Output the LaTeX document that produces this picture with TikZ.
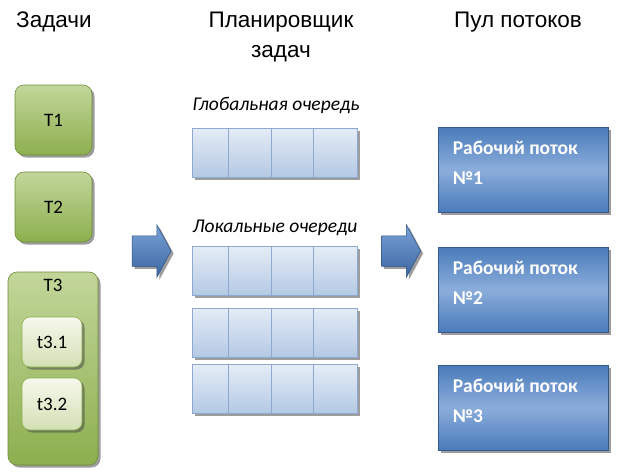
\documentclass[tikz,border=0pt]{standalone}
\usepackage{fontspec}
\setmainfont{Carlito}
\newfontfamily\headfont{Liberation Sans}
\usetikzlibrary{shapes.arrows,shadows}
\definecolor{tgA}{HTML}{C2D69A}
\definecolor{tgB}{HTML}{8DAF4E}
\definecolor{tgD}{HTML}{6E8C36}
\definecolor{ssA}{HTML}{F6F8EC}
\definecolor{ssB}{HTML}{D3E0B4}
\definecolor{qA}{HTML}{E4ECF6}
\definecolor{qB}{HTML}{B4C9E4}
\definecolor{qD}{HTML}{8EA9CF}
\definecolor{wA}{HTML}{4A7BBA}
\definecolor{wB}{HTML}{8BADDB}
\definecolor{wD}{HTML}{35598A}
\definecolor{aA}{HTML}{7AA2D6}
\definecolor{aB}{HTML}{3A66A2}
\tikzset{
  shad/.style={drop shadow={shadow xshift=2.5pt,shadow yshift=-2.5pt,opacity=0.55,fill=black!70}},
  heading/.style={font=\headfont\fontsize{22.5}{30}\selectfont, text=black},
  qlabel/.style={font=\itshape\fontsize{19.5}{22}\selectfont},
  taskbox/.style={draw=tgD, line width=0.6pt, rounded corners=9pt, top color=tgA, bottom color=tgB, shad, font=\fontsize{19}{22}\selectfont, inner sep=0pt},
  subbox/.style={draw=tgB, line width=0.6pt, rounded corners=8pt, top color=ssA, bottom color=ssB, shad, font=\fontsize{19}{22}\selectfont, inner sep=0pt},
  qframe/.style={draw=qD, fill=qB, shad, minimum width=165pt, minimum height=49pt, inner sep=0pt},
  qcell/.style={draw=qD, line width=0.5pt, top color=qA, bottom color=qB, minimum height=49pt, inner sep=0pt},
  worker/.style={draw=wD, line width=0.8pt, top color=wA, bottom color=wA, middle color=wB, shad, minimum width=170pt, minimum height=85pt, inner sep=0pt},
  wtext/.style={text=white, font=\bfseries\fontsize{19.5}{30}\selectfont, align=left, anchor=north west, inner sep=0pt},
  bigarrow/.style={single arrow, draw=aB!80!black, line width=0.5pt, top color=aA, bottom color=aB, minimum height=39pt, minimum width=52pt, single arrow head extend=11pt, single arrow tip angle=123, inner xsep=0pt, inner ysep=15pt, shad}
}
\begin{document}
\begin{tikzpicture}[x=1pt,y=-1pt]
\useasboundingbox (0,0) rectangle (620,471);
% headings
\node[heading] (hT) at (54,22) {Задачи};
\node[heading, align=center] (hS) at (281,37) {Планировщик\\задач};
\node[heading] (hP) at (518,22) {Пул потоков};
% tasks
\node[taskbox, minimum width=77pt, minimum height=70pt] (T1) at (53.5,120) {T1};
\node[taskbox, minimum width=77pt, minimum height=70pt] (T2) at (53.5,207) {T2};
\node[taskbox, minimum width=90pt, minimum height=193pt] (T3) at (53,368.5) {};
\node[font=\fontsize{19}{22}\selectfont] (T3l) at (53,285) {T3};
\node[subbox, minimum width=60pt, minimum height=50pt] (t31) at (52,342) {t3.1};
\node[subbox, minimum width=60pt, minimum height=52pt] (t32) at (52,404) {t3.2};
% queues
\node[qlabel] (gl) at (276,105) {Глобальная очередь};
\node[qlabel] (ll) at (275,228) {Локальные очереди};
\foreach \q/\y in {g/152.5, la/271, lb/332.5, lc/389}{
  \node[qframe] (\q) at (274.5,\y) {};
  \node[qcell, minimum width=36pt] (\q1) at (210,\y) {};
  \node[qcell, minimum width=43pt] (\q2) at (249.5,\y) {};
  \node[qcell, minimum width=42pt] (\q3) at (292,\y) {};
  \node[qcell, minimum width=44pt] (\q4) at (335,\y) {};
}
% arrows
\node[bigarrow] (a1) at (147.5,251) {};
\node[bigarrow] (a2) at (397,251) {};
% workers
\foreach \n/\y in {1/169.5, 2/289.5, 3/407.5}{
  \node[worker] (w\n) at (523,\y) {};
  \node[wtext] (wt\n) at ([xshift=15pt,yshift=-14pt]w\n.north west) {Рабочий поток\\№\n};
}
\end{tikzpicture}
\end{document}
